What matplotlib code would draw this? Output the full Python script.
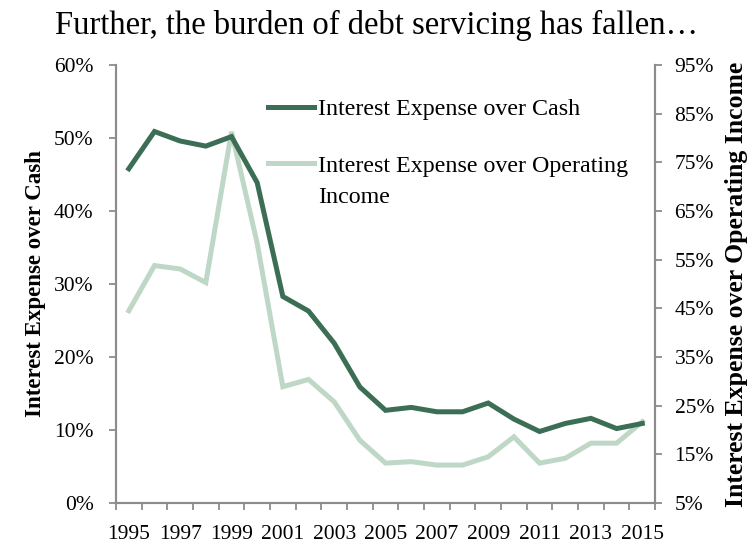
import matplotlib
matplotlib.use("Agg")
import matplotlib.pyplot as plt
from matplotlib.lines import Line2D
from matplotlib.ticker import FixedLocator, FuncFormatter

years = list(range(1995, 2016))
# interest expense / cash (left axis, %)
over_cash = [45.8, 50.9, 49.6, 48.9, 50.2, 43.9, 28.3, 26.3, 21.9, 15.9, 12.7,
             13.1, 12.5, 12.5, 13.7, 11.5, 9.8, 10.9, 11.6, 10.2, 10.9]
# interest expense / operating income (right axis, %)
over_opinc = [44.5, 53.8, 53.1, 50.3, 81.3, 58.4, 28.9, 30.4, 25.8, 17.9, 13.2,
              13.5, 12.8, 12.8, 14.5, 18.6, 13.2, 14.2, 17.3, 17.3, 21.7]

left_ticks = [0, 10, 20, 30, 40, 50, 60]
right_ticks = [5, 15, 25, 35, 45, 55, 65, 75, 85, 95]
year_labels = [1995, 1997, 1999, 2001, 2003, 2005, 2007, 2009, 2011, 2013, 2015]

dark = "#3B6E54"
light = "#BED7C6"
grey = "#8C8C8C"

plt.rcParams["font.family"] = "Liberation Serif"

fig = plt.figure(figsize=(7.53, 5.47), dpi=100)
ax = fig.add_axes([0.154, 0.0804, 0.716, 0.8006])
ax2 = ax.twinx()

l1, = ax.plot(years, over_cash, color=dark, lw=3.6, solid_joinstyle="miter", zorder=3)
l2, = ax2.plot(years, over_opinc, color=light, lw=3.6, solid_joinstyle="miter", zorder=2)
ax.set_zorder(ax2.get_zorder() + 1)
ax.patch.set_visible(False)

ax.set_xlim(1994.5, 2015.5)
ax.set_ylim(0, 60)
ax2.set_ylim(5, 95)

ax.set_xticks(year_labels)
ax.set_xticklabels([str(y) for y in year_labels])
ax.xaxis.set_minor_locator(FixedLocator([y - 0.5 for y in range(1995, 2017)]))
ax.tick_params(axis="x", which="major", length=0, pad=15.5, labelsize=15.5)
ax.tick_params(axis="x", which="minor", length=5, color=grey, width=1.3)

ax.set_yticks(left_ticks)
ax.yaxis.set_major_formatter(FuncFormatter(lambda v, p: f"{v:.0f}%"))
ax.tick_params(axis="y", length=5, color=grey, width=1.3, labelsize=15.5, pad=11)

ax2.set_yticks(right_ticks)
ax2.yaxis.set_major_formatter(FuncFormatter(lambda v, p: f"{v:.0f}%"))
ax2.tick_params(axis="y", length=5, color=grey, width=1.3, labelsize=15.5, pad=9)

for a in (ax, ax2):
    a.spines["top"].set_visible(False)
    for s in ("left", "right", "bottom"):
        a.spines[s].set_color(grey)
        a.spines[s].set_linewidth(1.5)

ax.set_ylabel("Interest Expense over Cash", fontsize=16.5, fontweight="bold", labelpad=6)
ax2.set_ylabel("Interest Expense over Operating Income", fontsize=18.5,
               fontweight="bold", labelpad=8)

# legend: two blocks so the wrapped label keeps its key on the first line
leg_kw = dict(loc="upper left", frameon=False, fontsize=17.3, handlelength=1.9,
              handletextpad=0.2, borderpad=0, borderaxespad=0)
leg1 = ax.legend([l1], ["Interest Expense over Cash"],
                 bbox_to_anchor=(0.282, 0.9235), **leg_kw)
ax.add_artist(leg1)
blank = Line2D([], [], lw=0)
ax.legend([l2, blank], ["Interest Expense over Operating", "Income"],
          bbox_to_anchor=(0.282, 0.795), labelspacing=0.38, **leg_kw)

fig.text(0.5, 0.954, "Further, the burden of debt servicing has fallen\u2026",
         ha="center", va="center", fontsize=23.5)

fig.savefig("out.png", dpi=100)
